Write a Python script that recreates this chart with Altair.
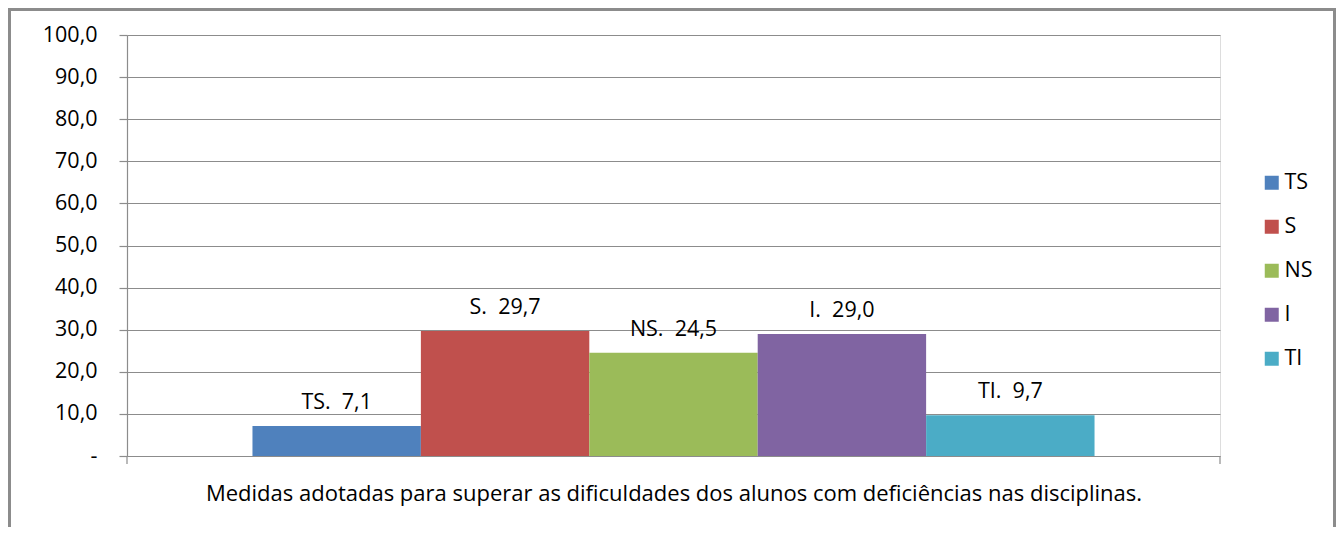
import altair as alt
import pandas as pd

series = ["TS", "S", "NS", "I", "TI"]
values = [7.1, 29.7, 24.5, 29.0, 9.7]
colors = ["#4F81BD", "#C0504D", "#9BBB59", "#8064A2", "#4BACC6"]
y_ticks = [0, 10, 20, 30, 40, 50, 60, 70, 80, 90, 100]
x_title = "Medidas adotadas para superar as dificuldades dos alunos com deficiências nas disciplinas."

NBSP = "\u00a0"
df = pd.DataFrame({
    "serie": series,
    "valor": values,
    "rotulo": [f"{s}.{NBSP}{NBSP}{('%.1f' % v).replace('.', ',')}" for s, v in zip(series, values)],
})

FONT = "Open Sans"
FS = 21.5
GRID = "#8c8c8c"
W, H = 1093, 421

x_enc = alt.X(
    "serie:N",
    sort=series,
    scale=alt.Scale(paddingInner=0, paddingOuter=0.745),
    axis=alt.Axis(title=x_title, labels=False, ticks=False, domain=False, grid=False,
                  titleFont=FONT, titleFontSize=22, titleFontWeight="normal",
                  titleColor="#000000", titlePadding=27),
)
y_enc = alt.Y(
    "valor:Q",
    scale=alt.Scale(domain=[0, 100], nice=False),
    axis=alt.Axis(
        title=None, values=y_ticks, grid=True, gridColor=GRID, gridWidth=1.2,
        domain=True, domainColor=GRID, domainWidth=1.2,
        ticks=True, tickSize=8, tickColor=GRID, tickWidth=1.2,
        labelPadding=22, labelFont=FONT, labelFontSize=FS, labelColor="#000000",
        labelExpr="datum.value == 0 ? '-' : replace(format(datum.value, '.1f'), '.', ',')",
    ),
)

base = alt.Chart(df)

bars = base.mark_bar().encode(
    x=x_enc,
    y=y_enc,
    color=alt.Color(
        "serie:N",
        sort=series,
        scale=alt.Scale(domain=series, range=colors),
        legend=alt.Legend(
            title=None, orient="none", legendX=1134, legendY=137,
            symbolType="square", symbolSize=196, symbolStrokeWidth=0,
            labelFont=FONT, labelFontSize=FS, labelColor="#000000",
            labelOffset=2, rowPadding=21,
        ),
    ),
)

labels = base.mark_text(dy=-17, baseline="alphabetic", font=FONT, fontSize=FS,
                        color="#000000").encode(
    x=alt.X("serie:N", sort=series),
    y=alt.Y("valor:Q"),
    text="rotulo:N",
)

one = pd.DataFrame({"k": [0]})
end_tick_l = alt.Chart(one).mark_rule(color=GRID, strokeWidth=1.2).encode(
    x=alt.value(0), y=alt.value(H), y2=alt.value(H + 8)
)
end_tick_r = alt.Chart(one).mark_rule(color=GRID, strokeWidth=1.2).encode(
    x=alt.value(W), y=alt.value(H), y2=alt.value(H + 8)
)
frame = alt.Chart(one).mark_rect(fill="transparent", stroke="#8c8c8c", strokeWidth=3).encode(
    x=alt.value(-117.5), x2=alt.value(1207.5), y=alt.value(-25.5), y2=alt.value(530)
)

chart = alt.layer(frame, bars, labels, end_tick_l, end_tick_r).properties(
    width=W, height=H,
    autosize=alt.AutoSizeParams(type="none"),
    padding={"left": 119, "top": 27, "right": 116, "bottom": 71},
).configure_view(stroke=None).configure(background="#ffffff")

chart.save("out.html", embed_options={"renderer": "svg", "actions": False})
